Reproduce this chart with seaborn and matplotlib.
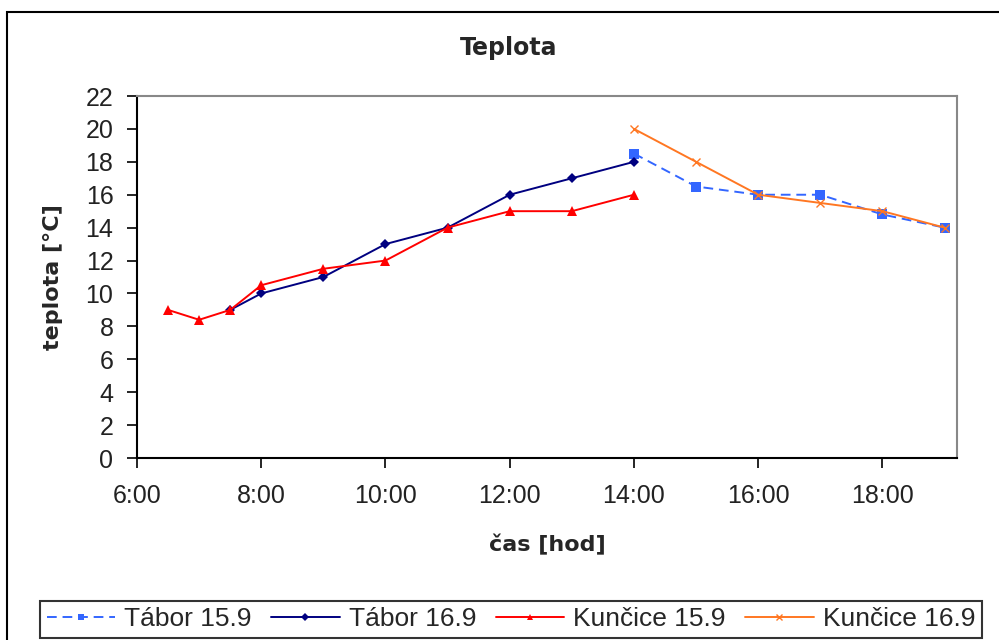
import matplotlib
matplotlib.use("Agg")
import matplotlib.pyplot as plt
import seaborn as sns
from matplotlib.patches import Rectangle

# ---- data (hours of day) ----
tabor159_x = [14, 15, 16, 17, 18, 19]
tabor159_y = [18.5, 16.5, 16.0, 16.0, 14.8, 14.0]

tabor169_x = [7.5, 8, 9, 10, 11, 12, 13, 14]
tabor169_y = [9.0, 10.0, 11.0, 13.0, 14.0, 16.0, 17.0, 18.0]

kuncice159_x = [6.5, 7, 7.5, 8, 9, 10, 11, 12, 13, 14]
kuncice159_y = [9.0, 8.4, 9.0, 10.5, 11.5, 12.0, 14.0, 15.0, 15.0, 16.0]

kuncice169_x = [14, 15, 16, 17, 18, 19]
kuncice169_y = [20.0, 18.0, 16.0, 15.5, 15.0, 14.0]

x_ticks = [6, 8, 10, 12, 14, 16, 18]
x_tick_labels = ["6:00", "8:00", "10:00", "12:00", "14:00", "16:00", "18:00"]
y_ticks = list(range(0, 23, 2))

sns.set_style("white")
plt.rcParams["font.family"] = ["Liberation Sans", "DejaVu Sans"]

W, H = 999, 640
fig = plt.figure(figsize=(W / 100, H / 100), dpi=100)
ax = fig.add_axes([137 / W, 1 - 458 / H, 820 / W, 362 / H])

lw = 1.4
sns.lineplot(x=tabor159_x, y=tabor159_y, ax=ax, color="#3366FF", lw=lw,
             linestyle=(0, (5, 3)), marker="s", markersize=7.5,
             markeredgecolor="#3366FF", markeredgewidth=0, label="Tábor 15.9",
             sort=False)
sns.lineplot(x=tabor169_x, y=tabor169_y, ax=ax, color="#000080", lw=lw,
             marker="D", markersize=5.5, markeredgecolor="#000080",
             markeredgewidth=0, label="Tábor 16.9", sort=False)
sns.lineplot(x=kuncice159_x, y=kuncice159_y, ax=ax, color="#FF0000", lw=lw,
             marker="^", markersize=7.5, markeredgecolor="#FF0000",
             markeredgewidth=0, label="Kunčice 15.9", sort=False)
sns.lineplot(x=kuncice169_x, y=kuncice169_y, ax=ax, color="#FF7722", lw=lw,
             marker="x", markersize=6, markeredgecolor="#FF7722",
             markeredgewidth=1.0, label="Kunčice 16.9", sort=False)

ax.set_xlim(6, 19.2)
ax.set_ylim(0, 22)
ax.set_xticks(x_ticks)
ax.set_xticklabels(x_tick_labels)
ax.set_yticks(y_ticks)
ax.tick_params(axis="both", direction="out", length=7, width=1.2, color="black",
               labelsize=18, labelcolor="#222222")
ax.tick_params(axis="y", pad=10, left=True)
ax.tick_params(axis="x", pad=12, bottom=True)

for s in ["left", "bottom"]:
    ax.spines[s].set_color("black")
    ax.spines[s].set_linewidth(1.5)
for s in ["top", "right"]:
    ax.spines[s].set_color("#888888")
    ax.spines[s].set_linewidth(1.5)
ax.grid(False)

ax.set_xlabel("čas [hod]", fontsize=16, fontweight="bold", family="DejaVu Sans")
ax.set_ylabel("teplota [°C]", fontsize=16, fontweight="bold", family="DejaVu Sans")
ax.xaxis.set_label_coords(0.5, -(545 - 458) / 362)
ax.xaxis.label.set_va("center")
ax.yaxis.set_label_coords((53 - 137) / 820, 0.5)
ax.yaxis.label.set_va("center")

fig.text(509 / W, 1 - 48 / H, "Teplota", ha="center", va="center",
         fontsize=17, fontweight="bold", family="DejaVu Sans")

ax.get_legend().remove()
handles, labels = ax.get_legend_handles_labels()
leg = fig.legend(handles, labels, loc="lower left", ncol=4, mode="expand",
                 bbox_to_anchor=(40 / W, 1 - 638 / H, 942 / W, 45 / H),
                 borderaxespad=0, fontsize=19, handlelength=2.6,
                 handletextpad=0.35, frameon=True, fancybox=False,
                 borderpad=0.25)
leg.get_frame().set_edgecolor("black")
leg.get_frame().set_linewidth(1.5)
for h in leg.get_lines():
    h.set_markersize(4)

# outer chart border (right and bottom edges lie outside the image)
fig.patches.append(Rectangle((7 / W, -0.1), 1.2, 1 - 12 / H + 0.1,
                             transform=fig.transFigure, fill=False,
                             edgecolor="black", linewidth=1.5))

fig.savefig("out.png", dpi=100)
